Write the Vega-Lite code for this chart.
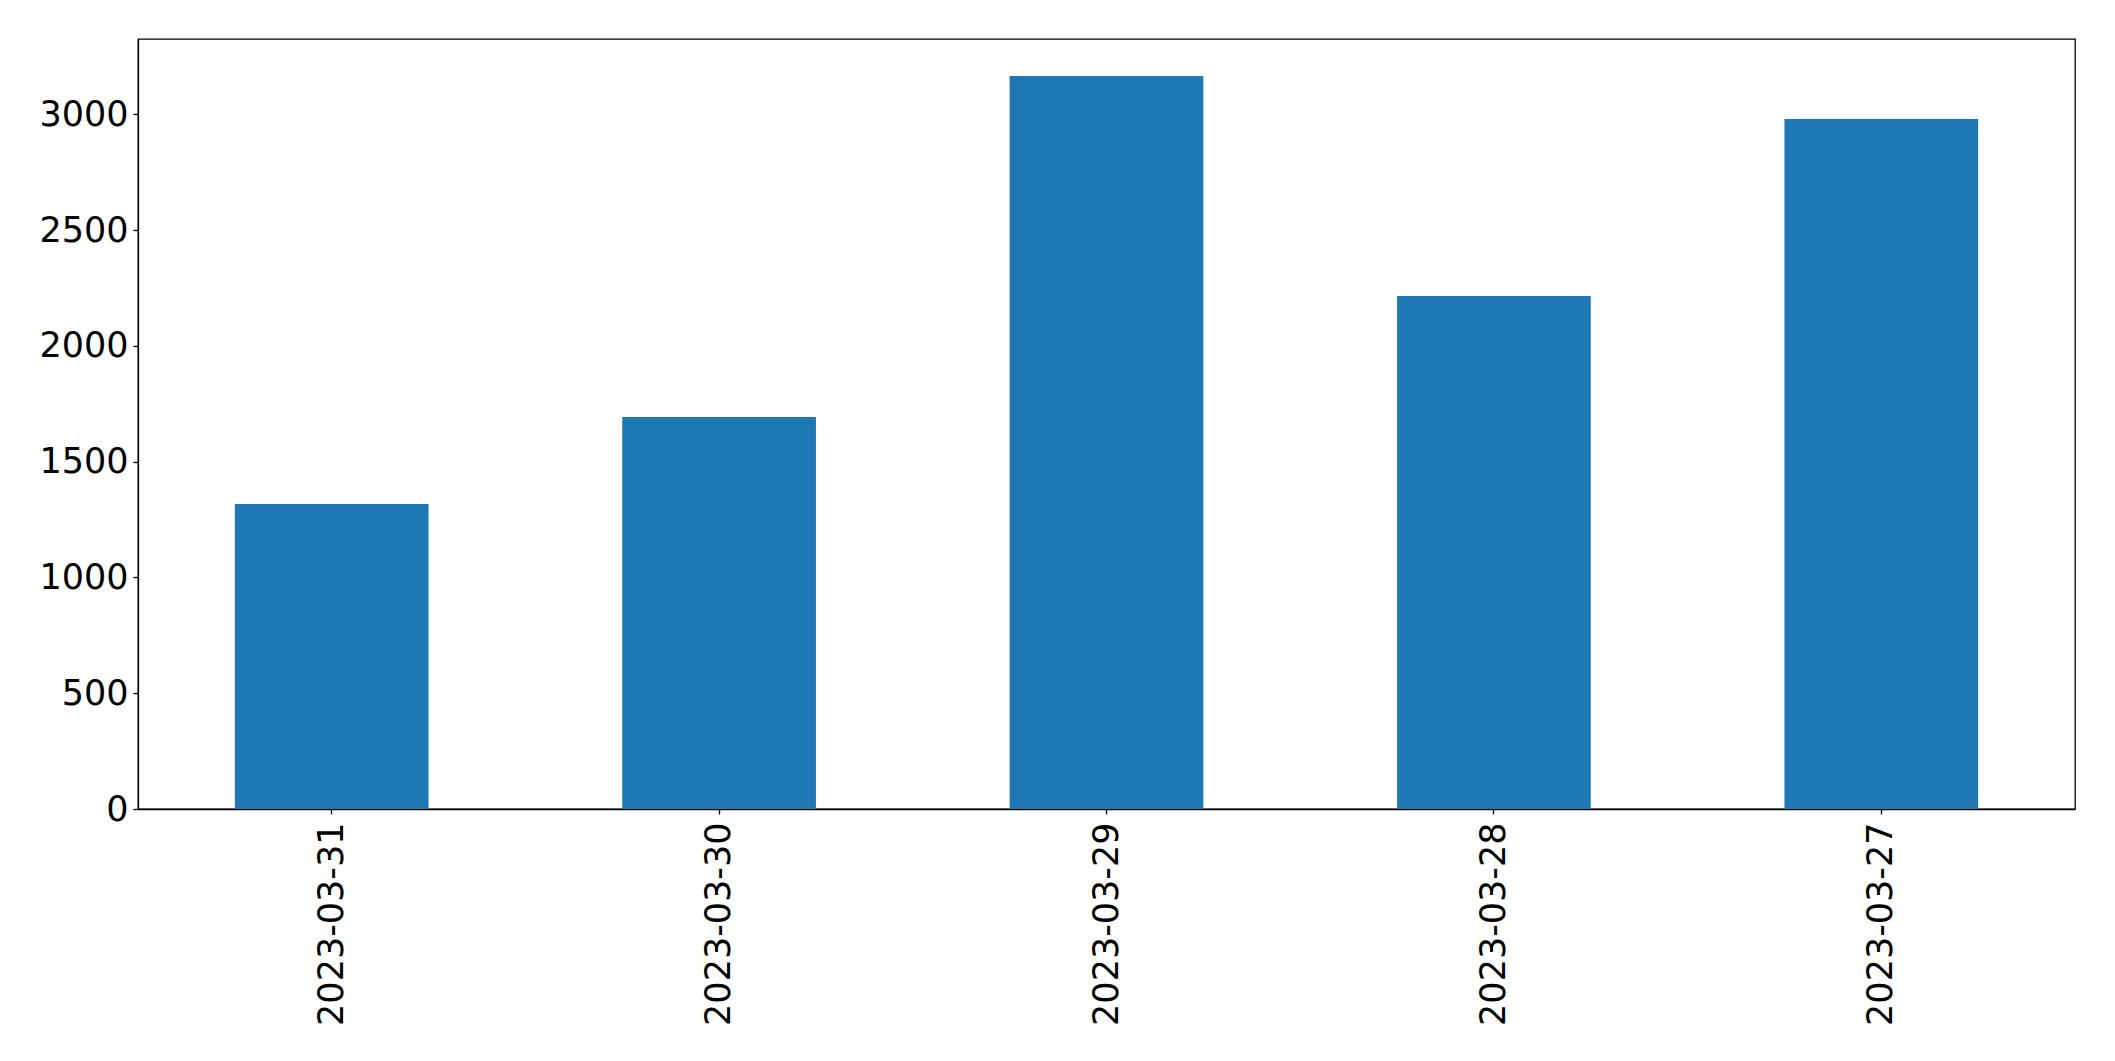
{
  "$schema": "https://vega.github.io/schema/vega-lite/v6.json",
  "width": 1937,
  "height": 770,
  "autosize": "none",
  "padding": {"left": 138, "top": 39, "right": 40, "bottom": 252},
  "background": "white",
  "data": {
    "values": [
      {"date": "2023-03-31", "value": 1317},
      {"date": "2023-03-30", "value": 1693},
      {"date": "2023-03-29", "value": 3165},
      {"date": "2023-03-28", "value": 2215},
      {"date": "2023-03-27", "value": 2980}
    ]
  },
  "config": {
    "view": {"stroke": "black", "strokeWidth": 1.3},
    "font": "DejaVu Sans"
  },
  "mark": {"type": "bar", "color": "#1f77b4"},
  "encoding": {
    "x": {
      "field": "date",
      "type": "nominal",
      "sort": null,
      "scale": {"paddingInner": 0.5, "paddingOuter": 0.25},
      "axis": {
        "title": null,
        "labelAngle": -90,
        "labelFont": "DejaVu Sans",
        "labelFontSize": 35,
        "labelColor": "black",
        "labelPadding": 8,
        "labelLimit": 1000,
        "tickSize": 5,
        "tickColor": "black",
        "tickWidth": 1.3,
        "domainColor": "black",
        "domainWidth": 1.3
      }
    },
    "y": {
      "field": "value",
      "type": "quantitative",
      "scale": {"domain": [0, 3325], "nice": false},
      "axis": {
        "title": null,
        "format": "d",
        "values": [0, 500, 1000, 1500, 2000, 2500, 3000],
        "grid": false,
        "labelFont": "DejaVu Sans",
        "labelFontSize": 35,
        "labelColor": "black",
        "labelPadding": 5,
        "labelLimit": 1000,
        "tickSize": 5,
        "tickColor": "black",
        "tickWidth": 1.3,
        "domainColor": "black",
        "domainWidth": 1.3
      }
    }
  }
}
